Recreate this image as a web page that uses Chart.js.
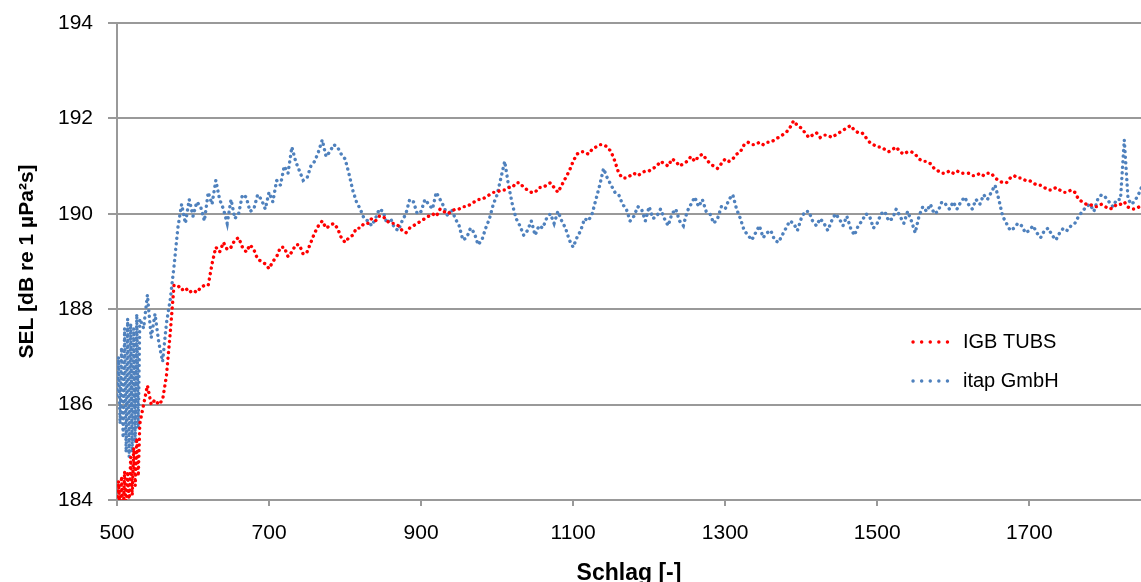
<!DOCTYPE html>
<html>
<head>
<meta charset="utf-8">
<script src="https://cdn.jsdelivr.net/npm/chart.js@4"></script>
<style>body{margin:0;background:#fff}</style>
</head>
<body>
<canvas id="myChart" width="1141" height="582"></canvas>
<script>
// Schlag (strike number) for every reading
var schlag = [500,502,504,506,508,510,512,514,516,518,520,522,524,526,528,530,
  535,540,545,550,555,560,565,570,575,580,585,590,595,
  600,605,610,615,620,625,630,635,640,645, 650,655,660,665,670,675,680,685,690,695,
  700,705,710,715,720,725,730,735,740,745, 750,755,760,765,770,775,780,785,790,795,
  800,805,810,815,820,825,830,835,840,845, 850,855,860,865,870,875,880,885,890,895,
  900,905,910,915,920,925,930,935,940,945, 950,955,960,965,970,975,980,985,990,995,
  1000,1005,1010,1015,1020,1025,1030,1035,1040,1045, 1050,1055,1060,1065,1070,1075,1080,1085,1090,1095,
  1100,1105,1110,1115,1120,1125,1130,1135,1140,1145, 1150,1155,1160,1165,1170,1175,1180,1185,1190,1195,
  1200,1205,1210,1215,1220,1225,1230,1235,1240,1245, 1250,1255,1260,1265,1270,1275,1280,1285,1290,1295,
  1300,1305,1310,1315,1320,1325,1330,1335,1340,1345, 1350,1355,1360,1365,1370,1375,1380,1385,1390,1395,
  1400,1405,1410,1415,1420,1425,1430,1435,1440,1445, 1450,1455,1460,1465,1470,1475,1480,1485,1490,1495,
  1500,1505,1510,1515,1520,1525,1530,1535,1540,1545, 1550,1555,1560,1565,1570,1575,1580,1585,1590,1595,
  1600,1605,1610,1615,1620,1625,1630,1635,1640,1645, 1650,1655,1660,1665,1670,1675,1680,1685,1690,1695,
  1700,1705,1710,1715,1720,1725,1730,1735,1740,1745, 1750,1755,1760,1765,1770,1775,1780,1785,1790,1795,
  1800,1805,1810,1815,1820,1825,1830,1835,1840,1845, 1850];

// IGB TUBS
var igbTubs = [183.6,184.4,183.7,184.5,183.6,184.6,183.8,184.6,183.9,184.9,184.1,185.1,184.3,185.3,184.5,185.6,
  186.0,186.4,186.0,186.1,186.0,186.1,186.6,187.5,188.5,188.5,188.4,188.45,188.35,
  188.4,188.35,188.45,188.5,188.5,188.95,189.3,189.2,189.4,189.25, 189.3,189.45,189.5,189.3,189.2,189.35,189.25,189.05,189.0,188.95,
  188.85,189.0,189.1,189.3,189.3,189.1,189.2,189.35,189.35,189.15, 189.2,189.4,189.6,189.75,189.85,189.7,189.75,189.8,189.7,189.5,
  189.4,189.5,189.55,189.7,189.7,189.8,189.8,189.9,189.85,189.95, 189.95,189.85,189.8,189.8,189.75,189.65,189.6,189.7,189.75,189.8,
  189.85,189.9,189.95,190.0,189.95,190.1,190.05,190.0,190.05,190.1, 190.1,190.15,190.15,190.2,190.25,190.3,190.3,190.35,190.4,190.45,
  190.45,190.5,190.5,190.55,190.55,190.65,190.65,190.55,190.5,190.45, 190.45,190.55,190.55,190.6,190.65,190.55,190.45,190.6,190.75,190.9,
  191.1,191.25,191.3,191.3,191.25,191.35,191.4,191.45,191.45,191.4, 191.3,191.1,190.85,190.75,190.75,190.8,190.85,190.8,190.85,190.9,
  190.9,190.95,191.0,191.1,191.05,191.0,191.15,191.1,191.0,191.05, 191.1,191.2,191.1,191.2,191.25,191.15,191.05,191.0,190.95,191.05,
  191.15,191.1,191.15,191.25,191.3,191.45,191.5,191.45,191.45,191.5, 191.45,191.5,191.5,191.55,191.6,191.65,191.7,191.8,191.95,191.85,
  191.8,191.7,191.6,191.65,191.7,191.6,191.65,191.65,191.6,191.65, 191.7,191.75,191.8,191.85,191.75,191.7,191.7,191.6,191.5,191.45,
  191.4,191.4,191.35,191.3,191.35,191.4,191.3,191.25,191.3,191.3, 191.25,191.15,191.1,191.1,191.05,190.95,190.9,190.85,190.85,190.9,
  190.85,190.9,190.85,190.85,190.85,190.8,190.8,190.85,190.8,190.85, 190.85,190.75,190.7,190.65,190.65,190.75,190.8,190.75,190.75,190.7,
  190.7,190.65,190.6,190.6,190.55,190.5,190.5,190.55,190.5,190.45, 190.45,190.5,190.45,190.3,190.25,190.2,190.2,190.15,190.15,190.2,
  190.15,190.1,190.12,190.2,190.2,190.25,190.14,190.1,190.1,190.15, 190.08];

// itap GmbH
var itapGmbH = [186.2,187.0,185.6,187.2,185.3,187.6,185.0,187.8,184.9,187.7,185.0,187.6,185.2,187.9,185.5,187.8,
  187.6,188.3,187.4,187.9,187.3,186.9,187.7,188.2,188.9,189.7,190.2,189.8,190.3,
  189.95,190.25,190.15,189.85,190.45,190.2,190.7,190.3,190.1,189.8, 190.3,189.9,190.0,190.4,190.35,190.05,190.1,190.4,190.3,190.1,
  190.45,190.25,190.7,190.6,191.0,190.85,191.4,191.1,190.9,190.7, 190.75,191.0,191.1,191.3,191.55,191.2,191.3,191.45,191.4,191.25,
  191.15,190.85,190.5,190.25,190.1,189.9,189.85,189.75,189.9,190.1, 190.05,189.8,189.9,189.7,189.65,189.85,190.0,190.3,190.25,190.0,
  190.05,190.3,190.2,190.1,190.45,190.3,190.15,189.95,190.1,189.9, 189.75,189.45,189.5,189.7,189.6,189.35,189.45,189.7,189.9,190.2,
  190.4,190.75,191.1,190.6,190.2,189.9,189.75,189.55,189.65,189.85, 189.55,189.75,189.7,189.9,190.0,189.8,190.05,189.85,189.7,189.45,
  189.3,189.5,189.65,189.9,189.85,190.0,190.3,190.6,190.95,190.75, 190.6,190.45,190.4,190.2,190.1,189.85,189.95,190.15,190.1,189.85,
  190.15,189.9,189.95,190.1,189.9,189.75,190.0,190.1,189.85,189.75, 190.05,190.2,190.35,190.15,190.3,190.05,190.0,189.8,189.9,190.15,
  190.1,190.3,190.4,190.1,189.9,189.65,189.55,189.45,189.6,189.75, 189.5,189.6,189.65,189.45,189.4,189.55,189.7,189.85,189.8,189.65,
  189.9,190.05,190.05,189.85,189.75,189.9,189.8,189.65,189.85,190.0, 189.9,189.75,189.95,189.7,189.55,189.75,189.85,190.0,189.95,189.7,
  189.8,190.0,190.05,189.85,189.9,190.1,189.95,189.8,190.05,189.85, 189.6,189.95,190.15,190.05,190.2,190.0,190.05,190.25,190.2,190.1,
  190.25,190.1,190.25,190.35,190.2,190.1,190.3,190.2,190.4,190.3, 190.45,190.6,190.3,189.95,189.8,189.65,189.7,189.8,189.75,189.6,
  189.65,189.75,189.6,189.5,189.65,189.7,189.55,189.45,189.6,189.7, 189.65,189.75,189.8,189.95,190.05,190.15,190.2,190.05,190.3,190.4,
  190.35,190.25,190.15,190.3,190.3,191.55,190.3,190.2,190.3,190.45, 190.65];

var xTicks = [500,700,900,1100,1300,1500,1700];
var yTicks = [184,186,188,190,192,194];

function points(values) {
    var out = [];
    for (var i = 0; i < schlag.length; i++) {
        out.push({x: schlag[i], y: values[i]});
    }
    return out;
}

// legend sits inside the plot, like the original
var legendInside = {
    id: 'legendInside',
    afterDatasetsDraw: function(chart) {
        var ctx = chart.ctx;
        var rows = [342, 381];
        chart.data.datasets.forEach(function(ds, i) {
            var y = rows[i];
            ctx.save();
            ctx.strokeStyle = ds.borderColor;
            ctx.lineWidth = 3.4;
            ctx.lineCap = 'round';
            ctx.setLineDash([0.1, 8.5]);
            ctx.beginPath();
            ctx.moveTo(913, y);
            ctx.lineTo(956, y);
            ctx.stroke();
            ctx.setLineDash([]);
            ctx.fillStyle = '#000';
            ctx.font = '20px "Liberation Sans"';
            ctx.textBaseline = 'middle';
            ctx.fillText(ds.label, 963, y);
            ctx.restore();
        });
    }
};

var ctx = document.getElementById('myChart').getContext('2d');

var lineChart = new Chart(ctx, {
    type: 'line',
    data: {
        datasets: [
            {
                label: 'IGB TUBS',
                data: points(igbTubs),
                borderColor: '#ff0000',
                borderWidth: 3.4,
                borderDash: [0.1, 5.5],
                borderCapStyle: 'round',
                fill: false
            },
            {
                label: 'itap GmbH',
                data: points(itapGmbH),
                borderColor: '#4f81bd',
                borderWidth: 3.4,
                borderDash: [0.1, 5.5],
                borderCapStyle: 'round',
                fill: false
            }
        ]
    },
    options: {
        responsive: false,
        animation: false,
        layout: {padding: {top: 23, right: 0, left: 0, bottom: 0}},
        elements: {point: {radius: 0}, line: {tension: 0}},
        plugins: {legend: {display: false}, tooltip: {enabled: false}},
        scales: {
            x: {
                type: 'linear',
                min: 500,
                max: 1847,
                afterBuildTicks: function(scale) {
                    scale.ticks = xTicks.map(function(v) { return {value: v}; });
                },
                afterFit: function(scale) {
                    scale.height = 82;
                    scale.paddingLeft = 0;
                    scale.paddingRight = 0;
                },
                grid: {drawOnChartArea: false, tickLength: 6, color: '#999', lineWidth: 2},
                border: {color: '#999', width: 2},
                ticks: {color: '#000', font: {family: 'Liberation Sans', size: 21}, padding: 15,
                        maxRotation: 0, autoSkip: false, callback: function(v) { return String(v); }},
                title: {display: true, text: 'Schlag [-]', color: '#000',
                        font: {family: 'Liberation Sans', size: 23, weight: 'bold'}, padding: {top: 0, bottom: -5}}
            },
            y: {
                min: 184,
                max: 194,
                afterBuildTicks: function(scale) {
                    scale.ticks = yTicks.map(function(v) { return {value: v}; });
                },
                afterFit: function(scale) {
                    scale.width = 117;
                    scale.paddingTop = 0;
                    scale.paddingBottom = 0;
                },
                grid: {tickLength: 9, color: '#999', lineWidth: 2},
                border: {color: '#999', width: 2},
                ticks: {color: '#000', font: {family: 'Liberation Sans', size: 21}, padding: 15,
                        callback: function(v) { return String(v); }},
                title: {display: true, text: 'SEL [dB re 1 µPa²s]', color: '#000',
                        font: {family: 'Liberation Sans', size: 21, weight: 'bold'}, padding: {top: 15, bottom: 0}}
            }
        }
    },
    plugins: [legendInside]
});
</script>
</body>
</html>
